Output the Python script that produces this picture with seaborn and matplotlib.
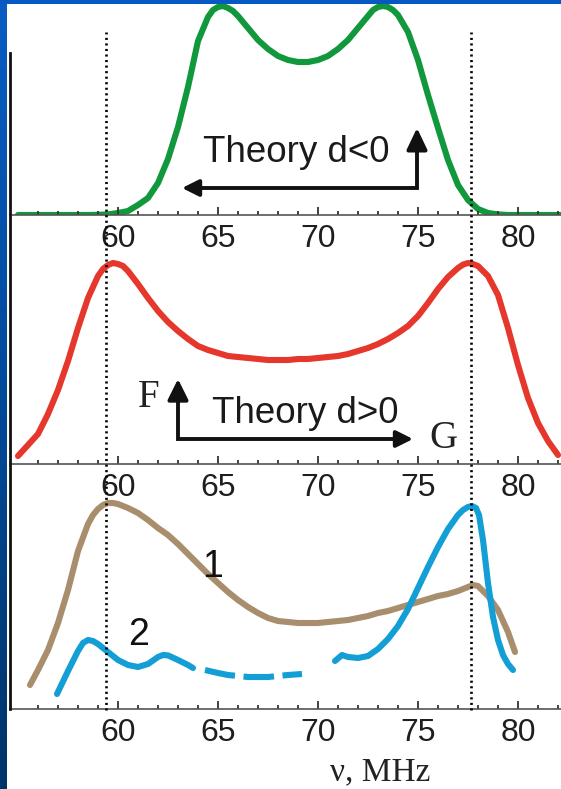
import numpy as np
import matplotlib
matplotlib.use("Agg")
import matplotlib.pyplot as plt
import seaborn as sns
from matplotlib.transforms import blended_transform_factory
from matplotlib.lines import Line2D
from matplotlib.patches import Rectangle
from matplotlib.colors import LinearSegmentedColormap

# ---------------- data ----------------
# Theory, d<0 (top panel)
freq_top = [55.0, 55.5, 56.0, 56.5, 57.0, 57.5, 58.0, 58.5, 59.0, 59.5,
            60.0, 60.5, 61.0, 61.5, 62.0, 62.5, 63.0, 63.5, 64.0, 64.5,
            64.75, 65.0, 65.25, 65.5, 65.75, 66.0, 66.5, 67.0, 67.5, 68.0,
            68.5, 69.0, 69.5, 70.0, 70.5, 71.0, 71.5, 72.0, 72.5, 72.75,
            73.0, 73.25, 73.5, 73.75, 74.0, 74.5, 75.0, 75.5, 76.0, 76.5,
            77.0, 77.5, 78.0, 78.5, 79.0, 79.5, 80.0, 80.5, 81.0, 81.5,
            82.0, 82.5]
theory_neg = [0.0, 0.0, 0.0, 0.0, 0.0, 0.0, 0.0, 0.0, 0.001, 0.003,
              0.01, 0.02, 0.05, 0.085, 0.16, 0.28, 0.44, 0.64, 0.87, 0.99,
              1.025, 1.04, 1.045, 1.035, 1.02, 0.995, 0.935, 0.875, 0.83, 0.795,
              0.775, 0.765, 0.765, 0.775, 0.795, 0.83, 0.875, 0.935, 0.995, 1.025,
              1.04, 1.045, 1.04, 1.025, 1.0, 0.915, 0.775, 0.6, 0.435, 0.275,
              0.15, 0.075, 0.03, 0.01, 0.003, 0.0, 0.0, 0.0, 0.0, 0.0,
              0.0, 0.0]

# Theory, d>0 (middle panel)
freq_mid = [55.0, 55.5, 56.0, 56.5, 57.0, 57.5, 58.0, 58.5, 59.0, 59.25,
            59.5, 59.75, 60.0, 60.25, 60.5, 61.0, 61.5, 62.0, 62.5, 63.0,
            63.5, 64.0, 64.5, 65.0, 65.5, 66.0, 66.5, 67.0, 67.5, 68.0,
            68.5, 69.0, 69.5, 70.0, 70.5, 71.0, 71.5, 72.0, 72.5, 73.0,
            73.5, 74.0, 74.5, 75.0, 75.5, 76.0, 76.5, 77.0, 77.25, 77.5,
            77.75, 78.0, 78.5, 79.0, 79.5, 80.0, 80.5, 81.0, 81.5, 82.0]
theory_pos = [0.04, 0.095, 0.15, 0.25, 0.37, 0.515, 0.68, 0.83, 0.94, 0.975,
              0.995, 1.005, 1.0, 0.99, 0.965, 0.9, 0.83, 0.765, 0.71, 0.665,
              0.625, 0.59, 0.57, 0.555, 0.54, 0.535, 0.53, 0.525, 0.52, 0.52,
              0.52, 0.525, 0.525, 0.53, 0.535, 0.54, 0.55, 0.565, 0.58, 0.6,
              0.625, 0.655, 0.69, 0.74, 0.805, 0.875, 0.935, 0.98, 0.997, 1.005,
              1.0, 0.99, 0.94, 0.845, 0.68, 0.495, 0.33, 0.205, 0.115, 0.045]

# Measured spectrum 1 (bottom panel)
freq_exp1 = [55.6, 56.0, 56.5, 57.0, 57.5, 58.0, 58.5, 58.75, 59.0, 59.25,
             59.5, 59.75, 60.0, 60.5, 61.0, 61.5, 62.0, 62.5, 63.0, 63.5,
             64.0, 64.5, 65.0, 65.5, 66.0, 66.5, 67.0, 67.5, 68.0, 68.5,
             69.0, 69.5, 70.0, 70.5, 71.0, 71.5, 72.0, 72.5, 73.0, 73.5,
             74.0, 74.5, 75.0, 75.5, 76.0, 76.5, 77.0, 77.5, 77.75, 78.0,
             78.5, 79.0, 79.5, 79.85]
exp1 = [0.12, 0.195, 0.295, 0.43, 0.595, 0.79, 0.925, 0.97, 1.0, 1.02,
        1.03, 1.03, 1.025, 1.005, 0.98, 0.945, 0.905, 0.87, 0.825, 0.775,
        0.725, 0.675, 0.63, 0.585, 0.545, 0.51, 0.48, 0.455, 0.44, 0.435,
        0.43, 0.43, 0.43, 0.435, 0.44, 0.445, 0.455, 0.465, 0.48, 0.49,
        0.505, 0.52, 0.535, 0.55, 0.565, 0.575, 0.59, 0.61, 0.62, 0.615,
        0.565, 0.495, 0.385, 0.285]

# Measured spectrum 2 (bottom panel), three pieces
freq_exp2_a = [56.95, 57.5, 58.0, 58.25, 58.5, 58.75, 59.0, 59.5, 60.0, 60.5,
               61.0, 61.5, 62.0, 62.25, 62.5, 63.0, 63.5, 63.75]
exp2_a = [0.075, 0.19, 0.29, 0.33, 0.345, 0.34, 0.325, 0.285, 0.245, 0.22,
          0.21, 0.225, 0.26, 0.27, 0.268, 0.245, 0.22, 0.205]
freq_exp2_b = [64.35, 65.0, 65.5, 66.0, 66.5, 67.0, 67.5, 68.0, 68.5, 69.2]
exp2_b = [0.195, 0.18, 0.17, 0.165, 0.16, 0.16, 0.16, 0.165, 0.17, 0.175]
freq_exp2_c = [70.85, 71.2, 71.5, 72.0, 72.5, 73.0, 73.5, 74.0, 74.5, 75.0,
               75.5, 76.0, 76.5, 77.0, 77.25, 77.5, 77.7, 77.9, 78.05, 78.25,
               78.5, 78.75, 79.0, 79.25, 79.5, 79.75]
exp2_c = [0.24, 0.27, 0.26, 0.255, 0.265, 0.30, 0.35, 0.415, 0.5, 0.605,
          0.71, 0.81, 0.9, 0.97, 0.995, 1.01, 1.015, 1.005, 0.97, 0.845,
          0.63, 0.46, 0.345, 0.27, 0.225, 0.195]

major_ticks = [60, 65, 70, 75, 80]
minor_ticks = [56, 57, 58, 59, 61, 62, 63, 64, 66, 67, 68, 69,
               71, 72, 73, 74, 76, 77, 78, 79, 81, 82]
resonances = [59.4, 77.65]

# ---------------- styling ----------------
plt.rcParams["font.family"] = ["Liberation Sans", "DejaVu Sans"]

W, H = 561, 789
fig = plt.figure(figsize=(W / 100, H / 100), dpi=100)
fig.patch.set_facecolor("white")

def px_axes(top, bottom):
    return fig.add_axes([10 / W, (H - bottom) / H, (W - 10) / W, (bottom - top) / H])

SCALE = 200.0  # pixels per intensity unit
ax_top = px_axes(0, 215)
ax_mid = px_axes(215, 464)
ax_bot = px_axes(464, 709)

LW = 4.4
curve_kw = dict(linewidth=LW, solid_capstyle="round", solid_joinstyle="round")
sns.lineplot(x=freq_top, y=theory_neg, ax=ax_top, color="#11983c", **curve_kw)
sns.lineplot(x=freq_mid, y=theory_pos, ax=ax_mid, color="#e5372c", **curve_kw)
sns.lineplot(x=freq_exp1, y=exp1, ax=ax_bot, color="#a88e6c", **curve_kw)
blue = "#139fd6"
sns.lineplot(x=freq_exp2_a, y=exp2_a, ax=ax_bot, color=blue, **curve_kw)
sns.lineplot(x=freq_exp2_b, y=exp2_b, ax=ax_bot, color=blue, linewidth=LW)
ax_bot.lines[-1].set_linestyle((0, (5.0, 1.4)))
ax_bot.lines[-1].set_dash_capstyle("butt")
sns.lineplot(x=freq_exp2_c, y=exp2_c, ax=ax_bot, color=blue, **curve_kw)

for ax, h in ((ax_top, 215), (ax_mid, 249), (ax_bot, 245)):
    ax.set_facecolor("none")
    ax.set_xlim(54.6, 82.15)
    ax.set_ylim(0, h / SCALE)
    for s in ("left", "right", "top"):
        ax.spines[s].set_visible(False)
    ax.spines["bottom"].set_color("#555555")
    ax.spines["bottom"].set_linewidth(1.2)
    ax.set_yticks([])
    ax.set_xticks(major_ticks)
    ax.set_xticks(minor_ticks, minor=True)
    ax.tick_params(axis="x", which="both", direction="in", length=0,
                   bottom=True, top=False)
    ax.tick_params(axis="x", which="major", labelsize=23,
                   labelcolor="#1e1e1e", pad=6.5)
    ax.set_xlabel("")
    ax.set_ylabel("")
    # inward tick marks drawn at the tick positions (8 px major, 4.5 px minor)
    tick_tr = blended_transform_factory(ax.transData, ax.transAxes)
    ax.vlines(major_ticks, 0, 8 / h, transform=tick_tr, color="#333333",
              lw=1.3, clip_on=False)
    ax.vlines(minor_ticks, 0, 4.5 / h, transform=tick_tr, color="#333333",
              lw=1.3, clip_on=False)

# curve numbers
ax_bot.text(64.75, 0.71, "1", fontsize=27, color="#111111", ha="center", va="center")
ax_bot.text(61.05, 0.37, "2", fontsize=27, color="#111111", ha="center", va="center")

# dotted resonance markers spanning all panels
for f in resonances:
    tr = blended_transform_factory(ax_bot.transData, fig.transFigure)
    ax_bot.plot([f, f], [(H - 710) / H, (H - 32) / H], transform=tr, clip_on=False,
                color="#000000", lw=1.9, linestyle=(0, (0.8, 1.3)), zorder=10)

# L-shaped arrows
def l_arrow(ax, corner, v_tip, h_tip, vhead, hhead):
    cx, cy = corner
    vy0 = v_tip - np.sign(v_tip - cy) * vhead[2]
    hx0 = h_tip - np.sign(h_tip - cx) * hhead[2]
    ax.plot([cx, cx, hx0], [vy0, cy, cy], color="#111111", lw=2.8,
            solid_joinstyle="miter", solid_capstyle="butt")
    ax.annotate("", xy=(cx, v_tip), xytext=(cx, vy0),
                arrowprops=dict(arrowstyle=f"-|>,head_length={vhead[0]},head_width={vhead[1]}",
                                color="#111111", lw=2.8, shrinkA=0, shrinkB=0,
                                mutation_scale=1))
    ax.annotate("", xy=(h_tip, cy), xytext=(hx0, cy),
                arrowprops=dict(arrowstyle=f"-|>,head_length={hhead[0]},head_width={hhead[1]}",
                                color="#111111", lw=2.8, shrinkA=0, shrinkB=0,
                                mutation_scale=1))

l_arrow(ax_top, (74.95, 0.135), 0.435, 63.2, (13, 6.2, 0.06), (10, 5, 0.5))
ax_top.text(64.25, 0.265, "Theory d<0", fontsize=26.5, color="#1a1a1a",
            ha="left", va="baseline")

l_arrow(ax_mid, (63.0, 0.125), 0.425, 74.75, (12.5, 6.2, 0.06), (10, 5, 0.5))
ax_mid.text(64.7, 0.205, "Theory d>0", fontsize=26.5, color="#1a1a1a",
            ha="left", va="baseline")
serif = ["Liberation Serif", "DejaVu Serif"]
ax_mid.text(61.0, 0.285, "F", fontsize=28, family=serif, color="#222222",
            ha="left", va="baseline")
ax_mid.text(75.55, 0.08, "G", fontsize=28, family=serif, color="#222222",
            ha="left", va="baseline")

fig.text(330 / W, (H - 780) / H, "\u03bd, MHz", fontsize=24, family=serif,
         color="#222222", ha="left", va="baseline")

# left spine shared by the three panels
fig.add_artist(Line2D([10 / W, 10 / W], [(H - 709) / H, (H - 53) / H],
                      transform=fig.transFigure, color="#111111", lw=2.0))

# slide frame: gradient band on the left, solid band on top
axg = fig.add_axes([0, 0, 7 / W, 1])
grad = np.linspace(0, 1, 256).reshape(-1, 1)
cmap = LinearSegmentedColormap.from_list("frame", ["#0a5cc4", "#004a9a", "#003468"])
axg.imshow(grad, aspect="auto", cmap=cmap, extent=[0, 1, 0, 1], origin="upper")
axg.axis("off")
fig.add_artist(Rectangle((0, 1 - 4 / H), 1, 4 / H, transform=fig.transFigure,
                         color="#0658c2", lw=0))

fig.savefig("out.png", dpi=100)
